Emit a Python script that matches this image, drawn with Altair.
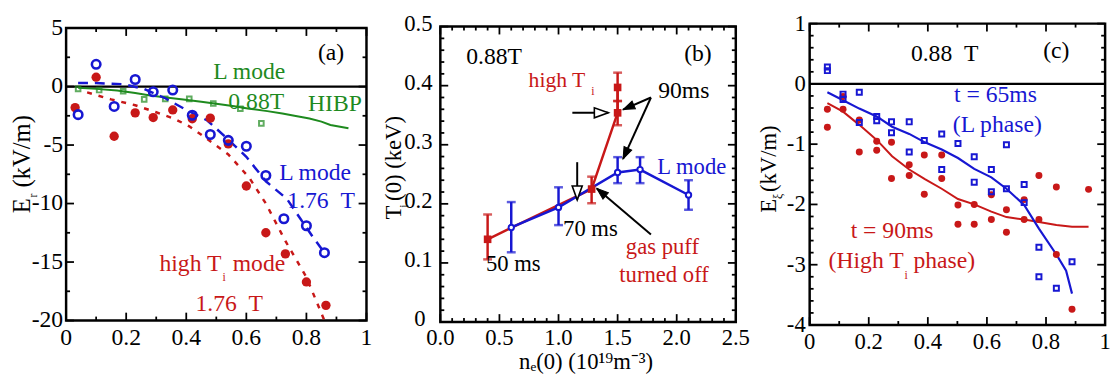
import math
import altair as alt
import pandas as pd

FONT = "Liberation Serif, Times New Roman, serif"
BLUE = "#1717d2"
RED = "#c81818"
GREEN = "#1e8a1e"
BLACK = "#000000"

# ===================== Panel (a): Er profiles =====================
a_L176_x = [0.04, 0.10, 0.16, 0.23, 0.29, 0.355, 0.42, 0.48, 0.54, 0.60, 0.665, 0.725, 0.80, 0.86]
a_L176_y = [-2.4, 1.9, -1.7, 0.6, -0.45, -0.3, -2.45, -4.1, -4.6, -5.1, -7.6, -11.3, -11.9, -14.2]
a_HT176_x = [0.03, 0.10, 0.16, 0.23, 0.29, 0.355, 0.42, 0.48, 0.54, 0.60, 0.665, 0.73, 0.80, 0.865]
a_HT176_y = [-1.8, 0.8, -4.25, -2.25, -2.65, -2.0, -2.75, -2.7, -4.9, -8.5, -12.5, -14.3, -16.7, -18.7]
a_hibp_pts_x = [0.04, 0.11, 0.19, 0.26, 0.33, 0.41, 0.49, 0.58, 0.65]
a_hibp_pts_y = [-0.2, -0.3, -0.4, -1.1, -1.05, -1.05, -1.45, -1.9, -3.15]
a_hibp_line_x = [0.04, 0.10, 0.17, 0.23, 0.28, 0.34, 0.39, 0.45, 0.50, 0.56, 0.61, 0.67, 0.72, 0.76, 0.81, 0.85, 0.88, 0.94]
a_hibp_line_y = [-0.1, -0.2, -0.34, -0.55, -0.76, -0.95, -1.1, -1.3, -1.47, -1.68, -1.89, -2.1, -2.31, -2.5, -2.73, -3.0, -3.29, -3.57]
a_Lfit_x = [0.04, 0.10, 0.19, 0.26, 0.33, 0.40, 0.47, 0.53, 0.60, 0.665, 0.735, 0.78, 0.82, 0.86]
a_Lfit_y = [0.3, 0.3, 0.2, -0.2, -1.0, -2.0, -2.9, -4.3, -6.0, -8.1, -9.6, -11.3, -12.8, -14.2]
a_HTfit_x = [0.07, 0.15, 0.23, 0.30, 0.36, 0.41, 0.46, 0.54, 0.61, 0.665, 0.73, 0.80, 0.86]
a_HTfit_y = [-0.5, -1.1, -1.6, -2.2, -2.75, -3.4, -4.3, -5.8, -7.8, -10.0, -13.2, -16.3, -20.0]

a_xmaj = [0, 0.2, 0.4, 0.6, 0.8, 1.0]
a_xlab = ["0", "0.2", "0.4", "0.6", "0.8", "1"]
a_xmin = [0.1, 0.3, 0.5, 0.7, 0.9]
a_ymaj = [5, 0, -5, -10, -15, -20]
a_ylab = ["5", "0", "-5", "-10", "-15", "-20"]
a_ylab_dx = [3, 3, 3, 3, 3, 3]
a_ymin = [2.5, -2.5, -7.5, -12.5, -17.5]

# text, x, y, color, size, align, baseline, dx, dy
a_text = [
    ("(a)", 0.882, 2.9, BLACK, 24, "center", "middle", 0, 0),
    ("L mode", 0.61, 1.2, GREEN, 24, "center", "middle", 0, 0),
    ("0.88T", 0.633, -1.3, GREEN, 24, "center", "middle", 0, 0),
    ("HIBP", 0.895, -1.47, GREEN, 24, "center", "middle", 0, 0),
    ("L mode", 0.829, -7.37, BLUE, 24, "center", "middle", 0, 0),
    ("1.76\u00a0\u00a0T", 0.849, -9.76, BLUE, 24, "center", "middle", 0, 0),
    ("high T", 0.517, -15.8, RED, 24, "right", "alphabetic", 0, 0),
    ("i", 0.517, -15.8, RED, 12, "left", "alphabetic", 1, 10),
    ("mode", 0.517, -15.8, RED, 24, "left", "alphabetic", 11.5, 0),
    ("1.76\u00a0\u00a0T", 0.543, -18.6, RED, 24, "center", "middle", 0, 0),
]

# ===================== Panel (b): Ti(0) vs ne(0) =====================
b_HT_x = [0.40, 1.28, 1.50, 1.50]
b_HT_y = [0.140, 0.225, 0.354, 0.397]
b_HT_lo = [0.106, 0.201, 0.333, 0.374]
b_HT_hi = [0.182, 0.246, 0.374, 0.422]
b_L_x = [0.60, 1.00, 1.50, 1.69, 2.10]
b_L_y = [0.160, 0.194, 0.253, 0.258, 0.215]
b_L_lo = [0.118, 0.164, 0.235, 0.235, 0.190]
b_L_hi = [0.203, 0.228, 0.279, 0.279, 0.240]

b_xmaj = [0, 0.5, 1.0, 1.5, 2.0, 2.5]
b_xlab = ["0.0", "0.5", "1.0", "1.5", "2.0", "2.5"]
b_xmin = [round(i * 0.1, 2) for i in range(26) if i % 5]
b_ymaj = [0, 0.1, 0.2, 0.3, 0.4, 0.5]
b_ylab = ["0", "0.1", "0.2", "0.3", "0.4", "0.5"]
b_ylab_dx = [15, 8, 8, 8, 8, 8]
b_ymin = [round(i * 0.02, 3) for i in range(26) if i % 5]

# arrows: tail x, tail y, tip x, tip y, open head
b_arrows = [
    (1.117, 0.354, 1.421, 0.354, True),
    (1.782, 0.380, 1.546, 0.3595, False),
    (1.782, 0.380, 1.546, 0.276, False),
    (1.158, 0.2705, 1.158, 0.2067, True),
    (1.782, 0.148, 1.324, 0.226, False),
]

b_text = [
    ("0.88T", 0.455, 0.448, BLACK, 24, "center", "middle", 0, 0),
    ("(b)", 2.18, 0.454, BLACK, 24, "center", "middle", 0, 0),
    ("high T", 1.227, 0.397, RED, 22, "right", "alphabetic", 0, 0),
    ("i", 1.227, 0.397, RED, 12, "left", "alphabetic", 6, 8),
    ("90ms", 2.06, 0.39, BLACK, 24, "center", "middle", 0, 0),
    ("L mode", 2.128, 0.262, BLUE, 23, "center", "middle", 0, 0),
    ("70 ms", 1.27, 0.157, BLACK, 23, "center", "middle", 0, 0),
    ("50 ms", 0.617, 0.098, BLACK, 23, "center", "middle", 0, 0),
    ("gas puff", 1.879, 0.126, RED, 23, "center", "middle", 0, 0),
    ("turned off", 1.893, 0.079, RED, 23, "center", "middle", 0, 0),
]

# ===================== Panel (c): E profiles at 0.88 T =====================
c_L_x = [0.06, 0.06, 0.113, 0.113, 0.168, 0.168, 0.227, 0.227, 0.277, 0.277, 0.337, 0.337, 0.388,
         0.447, 0.447, 0.502, 0.557, 0.557, 0.615, 0.615, 0.666, 0.666, 0.726, 0.726, 0.776, 0.776,
         0.835, 0.888]
c_L_y = [0.28, 0.22, -0.17, -0.26, -0.14, -0.64, -0.54, -0.61, -0.63, -0.81, -0.63, -1.13, -0.94,
         -0.83, -1.42, -0.99, -1.21, -1.63, -1.42, -1.79, -1.01, -1.74, -1.67, -1.97, -2.71, -3.2,
         -3.39, -2.95]
c_HT_x = [0.06, 0.06, 0.113, 0.113, 0.168, 0.168, 0.227, 0.227, 0.277, 0.277, 0.337, 0.337, 0.388,
          0.388, 0.447, 0.447, 0.502, 0.502, 0.557, 0.557, 0.615, 0.615, 0.666, 0.666, 0.726, 0.726,
          0.776, 0.776, 0.835, 0.835, 0.888, 0.944]
c_HT_y = [-0.42, -0.72, -0.21, -0.42, -0.6, -1.13, -0.95, -1.1, -0.97, -1.57, -1.34, -1.52, -1.18,
          -1.83, -1.18, -1.57, -2.01, -2.33, -2.0, -2.33, -1.84, -2.25, -2.09, -2.46, -1.92, -2.25,
          -1.52, -2.25, -1.71, -2.83, -3.74, -1.75]
c_Lline_x = [0.06, 0.113, 0.168, 0.227, 0.279, 0.337, 0.39, 0.447, 0.502, 0.557, 0.615, 0.666,
             0.726, 0.776, 0.835, 0.868, 0.888]
c_Lline_y = [-0.14, -0.27, -0.41, -0.54, -0.71, -0.83, -0.97, -1.09, -1.23, -1.41, -1.55, -1.74,
             -2.01, -2.40, -2.83, -3.1, -3.48]
c_HTline_x = [0.06, 0.113, 0.168, 0.227, 0.279, 0.337, 0.39, 0.447, 0.502, 0.557, 0.615, 0.666,
              0.726, 0.776, 0.835, 0.888, 0.944]
c_HTline_y = [-0.32, -0.46, -0.68, -0.93, -1.2, -1.42, -1.58, -1.74, -1.91, -2.0, -2.12, -2.21,
              -2.25, -2.29, -2.34, -2.37, -2.37]

c_xmaj = [0, 0.2, 0.4, 0.6, 0.8, 1.0]
c_xlab = ["0", "0.2", "0.4", "0.6", "0.8", "1"]
c_xmin = [0.1, 0.3, 0.5, 0.7, 0.9]
c_ymaj = [1, 0, -1, -2, -3, -4]
c_ylab = ["1", "0", "-1", "-2", "-3", "-4"]
c_ylab_dx = [4, 4, 4, 4, 4, 4]
c_ymin = [round(1 - i * 0.2, 2) for i in range(26) if i % 5]

c_text = [
    ("0.88\u00a0\u00a0T", 0.457, 0.49, BLACK, 24, "center", "middle", 0, 0),
    ("(c)", 0.835, 0.545, BLACK, 24, "center", "middle", 0, 0),
    ("t = 65ms", 0.629, -0.19, BLUE, 24, "center", "middle", 0, 0),
    ("(L phase)", 0.635, -0.68, BLUE, 24, "center", "middle", 0, 0),
    ("t = 90ms", 0.279, -2.45, RED, 24, "center", "middle", 0, 0),
    ("(High T", 0.318, -3.05, RED, 24, "right", "alphabetic", 0, 0),
    ("i", 0.318, -3.05, RED, 12, "left", "alphabetic", 1, 11),
    ("phase)", 0.318, -3.05, RED, 24, "left", "alphabetic", 10, 0),
]

# axis titles drawn as text (pixel offsets from each panel's plot origin)
# text, x, y, size, angle, align
a_titles = [("E", -37, 188, 25, 270, "left"), ("r", -30, 172, 12, 270, "left"),
            ("(kV/m)", -37, 162, 25, 270, "left")]
b_titles = [("T", -40, 196, 23, 270, "left"), ("i", -33, 184, 12, 270, "left"),
            ("(0) (keV)", -40, 177, 23, 270, "left"),
            ("n\u2091(0) (10\u00b9\u2079m\u207b\u00b3)", 148, 348, 23, 0, "center")]
c_titles = [("E", -34, 192, 23, 270, "left"), ("\u03be", -28, 178, 12, 270, "left"),
            ("(kV/m)", -34, 171, 23, 270, "left")]

WA, HA = 305, 297
WB, HB = 300, 300
WC, HC = 300, 306


def make_panel(W, H, xdom, ydom, xmaj, xlab, xmin, ymaj, ylab, ymin, xlab_dy, ylab_dx, ylab_dy,
               lsize, zero_line, data_layers, texts, titles):
    sx = alt.Scale(domain=xdom, nice=False, zero=False)
    sy = alt.Scale(domain=ydom, nice=False, zero=False)

    def X(f):
        return alt.X(f + ":Q", scale=sx, axis=None)

    def Y(f):
        return alt.Y(f + ":Q", scale=sy, axis=None)

    layers = []
    # inward ticks on all four sides
    for vals, L in ((xmaj, 8), (xmin, 4)):
        base = alt.Chart(pd.DataFrame({"v": vals})).mark_rule(color="black", strokeWidth=1.8)
        layers.append(base.encode(x=X("v"), y=alt.value(H), y2=alt.value(H - L)))
        layers.append(base.encode(x=X("v"), y=alt.value(0), y2=alt.value(L)))
    for vals, L in ((ymaj, 8), (ymin, 4)):
        base = alt.Chart(pd.DataFrame({"v": vals})).mark_rule(color="black", strokeWidth=1.8)
        layers.append(base.encode(y=Y("v"), x=alt.value(0), x2=alt.value(L)))
        layers.append(base.encode(y=Y("v"), x=alt.value(W), x2=alt.value(W - L)))
    # tick labels
    layers.append(alt.Chart(pd.DataFrame({"v": xmaj, "t": xlab}))
                  .mark_text(font=FONT, fontSize=lsize, color="black", align="center", baseline="middle")
                  .encode(x=X("v"), y=alt.value(H + xlab_dy), text="t:N"))
    for v, t, off in zip(ymaj, ylab, ylab_dx):
        layers.append(alt.Chart(pd.DataFrame({"v": [v], "t": [t]}))
                      .mark_text(font=FONT, fontSize=lsize, color="black", align="right",
                                 baseline="middle", dy=ylab_dy)
                      .encode(y=Y("v"), x=alt.value(-off), text="t:N"))
    if zero_line:
        layers.append(alt.Chart(pd.DataFrame({"v": [0]})).mark_rule(color="black", strokeWidth=2.2)
                      .encode(y=Y("v"), x=alt.value(0), x2=alt.value(W)))
    for fn in data_layers:
        layers.append(fn(X, Y))
    for (t, x, y, col, size, align, base_, dx, dy) in texts:
        layers.append(alt.Chart(pd.DataFrame({"x": [x], "y": [y], "t": [t]}))
                      .mark_text(font=FONT, fontSize=size, color=col, align=align, baseline=base_,
                                 dx=dx, dy=dy)
                      .encode(x=X("x"), y=Y("y"), text="t:N"))
    for (t, px, py, size, ang, align) in titles:
        layers.append(alt.Chart(pd.DataFrame({"t": [t]}))
                      .mark_text(font=FONT, fontSize=size, color="black", align=align,
                                 baseline="alphabetic", angle=ang)
                      .encode(x=alt.value(px), y=alt.value(py), text="t:N"))
    return alt.layer(*layers).properties(width=W, height=H)


# ---------- panel (a) layers
def a_layers():
    out = []
    out.append(lambda X, Y: alt.Chart(pd.DataFrame({"x": a_hibp_line_x, "y": a_hibp_line_y}))
               .mark_line(color=GREEN, strokeWidth=2).encode(x=X("x"), y=Y("y")))
    out.append(lambda X, Y: alt.Chart(pd.DataFrame({"x": a_hibp_pts_x, "y": a_hibp_pts_y}))
               .mark_point(shape="square", filled=False, color=GREEN, size=22, strokeWidth=2)
               .encode(x=X("x"), y=Y("y")))
    out.append(lambda X, Y: alt.Chart(pd.DataFrame({"x": a_Lfit_x, "y": a_Lfit_y}))
               .mark_line(color=BLUE, strokeWidth=2.5, strokeDash=[10, 7], clip=True)
               .encode(x=X("x"), y=Y("y")))
    out.append(lambda X, Y: alt.Chart(pd.DataFrame({"x": a_HTfit_x, "y": a_HTfit_y}))
               .mark_line(color=RED, strokeWidth=2.5, strokeDash=[5, 7], clip=True)
               .encode(x=X("x"), y=Y("y")))
    out.append(lambda X, Y: alt.Chart(pd.DataFrame({"x": a_HT176_x, "y": a_HT176_y}))
               .mark_point(shape="circle", filled=True, color=RED, size=90, opacity=1)
               .encode(x=X("x"), y=Y("y")))
    out.append(lambda X, Y: alt.Chart(pd.DataFrame({"x": a_L176_x, "y": a_L176_y}))
               .mark_point(shape="circle", filled=False, color=BLUE, size=75, strokeWidth=2.6, opacity=1)
               .encode(x=X("x"), y=Y("y")))
    return out


# ---------- panel (b) layers
def b_layers():
    out = []
    kx, ky = WB / 2.5, HB / 0.5
    arr = pd.DataFrame(b_arrows, columns=["x0", "y0", "x1", "y1", "op"])
    arr["ang"] = [(math.degrees(math.atan2((r.x1 - r.x0) * kx, (r.y1 - r.y0) * ky)) + 360) % 360
                  for r in arr.itertuples()]
    out.append(lambda X, Y: alt.Chart(pd.DataFrame({"x": b_HT_x, "y": b_HT_y}))
               .mark_line(color=RED, strokeWidth=2.5).encode(x=X("x"), y=Y("y")))
    out.append(lambda X, Y: alt.Chart(pd.DataFrame({"x": b_L_x, "y": b_L_y}))
               .mark_line(color=BLUE, strokeWidth=2.5).encode(x=X("x"), y=Y("y")))
    for xs, lo, hi, col in ((b_HT_x, b_HT_lo, b_HT_hi, RED), (b_L_x, b_L_lo, b_L_hi, BLUE)):
        df = pd.DataFrame({"x": xs, "lo": lo, "hi": hi})
        out.append(lambda X, Y, df=df, col=col: alt.Chart(df).mark_rule(color=col, strokeWidth=2.5)
                   .encode(x=X("x"), y=Y("lo"), y2="hi:Q"))
        out.append(lambda X, Y, df=df, col=col: alt.Chart(df)
                   .mark_tick(color=col, orient="horizontal", size=9, thickness=2.5)
                   .encode(x=X("x"), y=Y("lo")))
        out.append(lambda X, Y, df=df, col=col: alt.Chart(df)
                   .mark_tick(color=col, orient="horizontal", size=9, thickness=2.5)
                   .encode(x=X("x"), y=Y("hi")))
    out.append(lambda X, Y: alt.Chart(pd.DataFrame({"x": b_HT_x, "y": b_HT_y}))
               .mark_point(shape="square", filled=True, color=RED, size=60, opacity=1)
               .encode(x=X("x"), y=Y("y")))
    out.append(lambda X, Y: alt.Chart(pd.DataFrame({"x": b_L_x, "y": b_L_y}))
               .mark_point(shape="circle", filled=True, fill="white", stroke=BLUE, size=30,
                           strokeWidth=2, opacity=1)
               .encode(x=X("x"), y=Y("y")))
    out.append(lambda X, Y: alt.Chart(arr).mark_rule(color="black", strokeWidth=2)
               .encode(x=X("x0"), y=Y("y0"), x2="x1:Q", y2="y1:Q"))
    head = "M0,0L-0.36,1L0.36,1Z"
    out.append(lambda X, Y: alt.Chart(arr[arr.op]).mark_point(shape=head, filled=True, fill="white",
                                                              stroke="black", strokeWidth=1.6, size=800,
                                                              opacity=1)
               .encode(x=X("x1"), y=Y("y1"), angle=alt.Angle("ang:Q", scale=None)))
    out.append(lambda X, Y: alt.Chart(arr[~arr.op]).mark_point(shape=head, filled=True, fill="black",
                                                               stroke="black", strokeWidth=1, size=560,
                                                               opacity=1)
               .encode(x=X("x1"), y=Y("y1"), angle=alt.Angle("ang:Q", scale=None)))
    return out


# ---------- panel (c) layers
def c_layers():
    out = []
    out.append(lambda X, Y: alt.Chart(pd.DataFrame({"x": c_HTline_x, "y": c_HTline_y}))
               .mark_line(color=RED, strokeWidth=2).encode(x=X("x"), y=Y("y")))
    out.append(lambda X, Y: alt.Chart(pd.DataFrame({"x": c_Lline_x, "y": c_Lline_y}))
               .mark_line(color=BLUE, strokeWidth=2.2).encode(x=X("x"), y=Y("y")))
    out.append(lambda X, Y: alt.Chart(pd.DataFrame({"x": c_HT_x, "y": c_HT_y}))
               .mark_point(shape="circle", filled=True, color=RED, size=50, opacity=1)
               .encode(x=X("x"), y=Y("y")))
    out.append(lambda X, Y: alt.Chart(pd.DataFrame({"x": c_L_x, "y": c_L_y}))
               .mark_point(shape="square", filled=False, color=BLUE, size=26, strokeWidth=2, opacity=1)
               .encode(x=X("x"), y=Y("y")))
    return out


pa = make_panel(WA, HA, [0, 1], [-20, 5], a_xmaj, a_xlab, a_xmin, a_ymaj, a_ylab, a_ymin, 18, a_ylab_dx, 0,
                24, True, a_layers(), a_text, a_titles)
pb = make_panel(WB, HB, [0, 2.5], [0, 0.5], b_xmaj, b_xlab, b_xmin, b_ymaj, b_ylab, b_ymin, 16, b_ylab_dx, -3,
                23, False, b_layers(), b_text, b_titles)
pc = make_panel(WC, HC, [0, 1], [-4, 1], c_xmaj, c_xlab, c_xmin, c_ymaj, c_ylab, c_ymin, 17, c_ylab_dx, 0,
                23, True, c_layers(), c_text, c_titles)

chart = (alt.hconcat(pa, pb, pc, spacing=75, bounds="flush", center=True)
         .properties(padding={"left": 0, "top": 0, "right": 0, "bottom": 0}, background="white")
         .configure_view(stroke="black", strokeWidth=2.5))

chart.save("out.html", embed_options={"renderer": "svg", "actions": False})
